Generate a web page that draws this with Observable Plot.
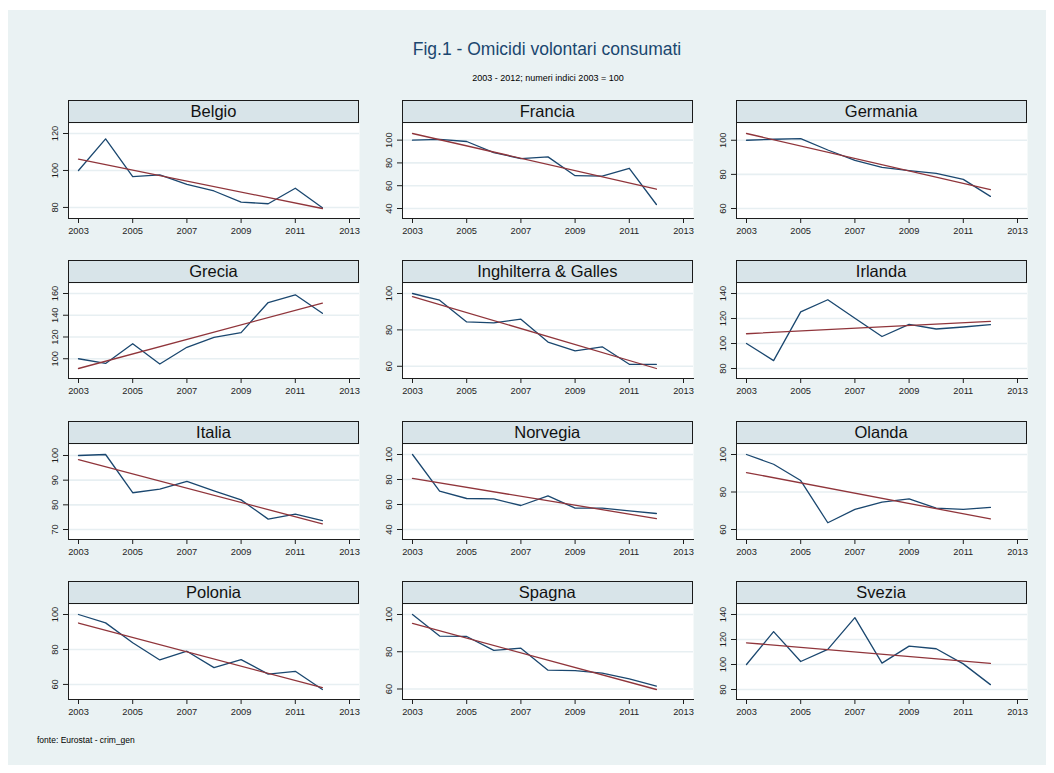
<!DOCTYPE html>
<html>
<head>
<meta charset="utf-8">
<script src="https://cdn.jsdelivr.net/npm/d3@7"></script>
<script src="https://cdn.jsdelivr.net/npm/@observablehq/plot@0.6"></script>
<style>
  body { margin: 0; background: #ffffff; font-family: "Liberation Sans", Arial, Helvetica, sans-serif; }
  #wrap { position: relative; width: 1054px; height: 773px; overflow: hidden; background: #ffffff; }
  #bg { position: absolute; left: 8px; top: 10px; width: 1038px; height: 755px; background: #eaf2f3; }
  .txt { position: absolute; white-space: nowrap; }
  .strip { position: absolute; box-sizing: border-box; border: 1px solid #1b1b1b; background: #d8e4e9;
           text-align: center; font-size: 16.5px; font-weight: normal; color: #111; }
  .panel { position: absolute; overflow: visible; }
</style>
</head>
<body>
<div id="wrap">
  <div id="bg"></div>
  <div class="txt" id="title" style="left:0;width:1094px;top:38px;line-height:22px;font-size:17.5px;color:#1a476f;text-align:center;">Fig.1 - Omicidi volontari consumati</div>
  <div class="txt" style="left:0;width:1096px;top:72px;line-height:12px;font-size:9px;color:#000;text-align:center;">2003 - 2012; numeri indici 2003 = 100</div>
  <div class="txt" style="left:37px;top:734px;line-height:12px;font-size:8.5px;color:#000;">fonte: Eurostat - crim_gen</div>
</div>
<script>
// ---- data ----
const years = [2003, 2004, 2005, 2006, 2007, 2008, 2009, 2010, 2011, 2012];
const xTicks = [2003, 2005, 2007, 2009, 2011, 2013];
const countries = ["Belgio", "Francia", "Germania", "Grecia", "Inghilterra & Galles", "Irlanda",
                   "Italia", "Norvegia", "Olanda", "Polonia", "Spagna", "Svezia"];

const belgio     = [100, 117.1, 96.7, 97.6, 92.5, 88.9, 82.9, 82.0, 90.4, 79.8];
const francia    = [100, 100.6, 98.8, 89.1, 83.8, 85.3, 68.8, 68.5, 75.3, 43.5];
const germania   = [100, 100.6, 101.0, 94.3, 88.2, 84.1, 82.2, 80.6, 77.1, 67.1];
const grecia     = [100, 95.7, 113.8, 95.1, 110.5, 119.7, 124.0, 151.7, 158.8, 141.8];
const inghilterra= [100, 96.3, 84.4, 83.9, 85.9, 73.3, 68.5, 70.7, 61.1, 61.1];
const irlanda    = [100, 86.3, 125.3, 135.0, 120.2, 105.6, 115.3, 111.6, 113.2, 115.1];
const italia     = [100, 100.4, 84.9, 86.4, 89.5, 85.7, 82.0, 74.2, 76.2, 73.6];
const norvegia   = [100, 70.7, 64.8, 64.5, 59.2, 66.9, 57.1, 57.1, 54.9, 52.8];
const olanda     = [100, 94.8, 86.1, 63.6, 70.7, 74.6, 76.3, 71.4, 70.7, 71.8];
const polonia    = [100, 95.2, 83.8, 74.0, 79.0, 69.6, 74.2, 65.9, 67.5, 57.1];
const spagna     = [100, 88.4, 88.2, 80.7, 81.9, 70.1, 69.9, 68.5, 65.4, 61.5];
const svezia     = [100, 126.3, 102.4, 112.1, 137.5, 101.1, 114.7, 112.6, 100.5, 83.9];

const series = [belgio, francia, germania, grecia, inghilterra, irlanda,
                italia, norvegia, olanda, polonia, spagna, svezia];

const yTicks = [
  [80, 100, 120], [40, 60, 80, 100], [60, 80, 100],
  [100, 120, 140, 160], [60, 80, 100], [80, 100, 120, 140],
  [70, 80, 90, 100], [40, 60, 80, 100], [60, 80, 100],
  [60, 80, 100], [60, 80, 100], [80, 100, 120, 140]
];

// ---- layout ----
const wrap = document.getElementById("wrap");
const plotW = 291, plotH = 95, stripH = 23;
const mL = 40, mR = 16, mB = 28;
const font = '"Liberation Sans", Arial, Helvetica, sans-serif';

countries.forEach((name, i) => {
  const c = i % 3, r = Math.floor(i / 3);
  const left = 68 + c * 333.8;
  const top = 100 + r * 160.3;
  const vals = series[i];
  const ticks = yTicks[i];
  const data = years.map((x, j) => ({x, y: vals[j]}));

  // least-squares fit, used only to include the fitted line in the y range
  const mx = d3.mean(years), my = d3.mean(vals);
  const slope = d3.sum(years, (x, j) => (x - mx) * (vals[j] - my)) / d3.sum(years, x => (x - mx) ** 2);
  const fit = x => my + slope * (x - mx);
  const yDomain = d3.extent([...vals, ...ticks, fit(years[0]), fit(years[years.length - 1])]);

  const strip = document.createElement("div");
  strip.className = "strip";
  strip.style.left = left + "px";
  strip.style.top = top + "px";
  strip.style.width = plotW + "px";
  strip.style.height = stripH + "px";
  strip.style.lineHeight = (stripH - 2) + "px";
  strip.textContent = name;
  wrap.appendChild(strip);

  const svg = Plot.plot({
    width: mL + plotW + mR,
    height: plotH + mB,
    marginLeft: mL, marginRight: mR, marginTop: 0, marginBottom: mB,
    style: {background: "transparent", fontFamily: font, fontSize: "9.3px", color: "#1e1e1e", overflow: "visible"},
    x: {domain: [2003, 2013], inset: 10},
    y: {domain: yDomain, inset: 10},
    marks: [
      Plot.frame({fill: "#ffffff", stroke: null}),
      Plot.gridY(ticks, {stroke: "#e7eff2", strokeOpacity: 1, strokeWidth: 1.6}),
      Plot.axisX(xTicks, {tickSize: 5, tickPadding: 4, tickFormat: "d", label: null, stroke: "#1e1e1e"}),
      Plot.axisY(ticks, {tickSize: 5, tickPadding: 6, tickRotate: -90, tickFormat: "d", label: null, stroke: "#1e1e1e"}),
      Plot.frame({anchor: "left", stroke: "#1e1e1e", strokeWidth: 1}),
      Plot.frame({anchor: "bottom", stroke: "#1e1e1e", strokeWidth: 1}),
      Plot.line(data, {x: "x", y: "y", stroke: "#1a476f", strokeWidth: 1.3}),
      Plot.linearRegressionY(data, {x: "x", y: "y", stroke: "#90353b", strokeWidth: 1.3, ci: 0})
    ]
  });
  svg.classList.add("panel");
  svg.style.left = (left - mL) + "px";
  svg.style.top = (top + stripH) + "px";
  wrap.appendChild(svg);
});
</script>
</body>
</html>
